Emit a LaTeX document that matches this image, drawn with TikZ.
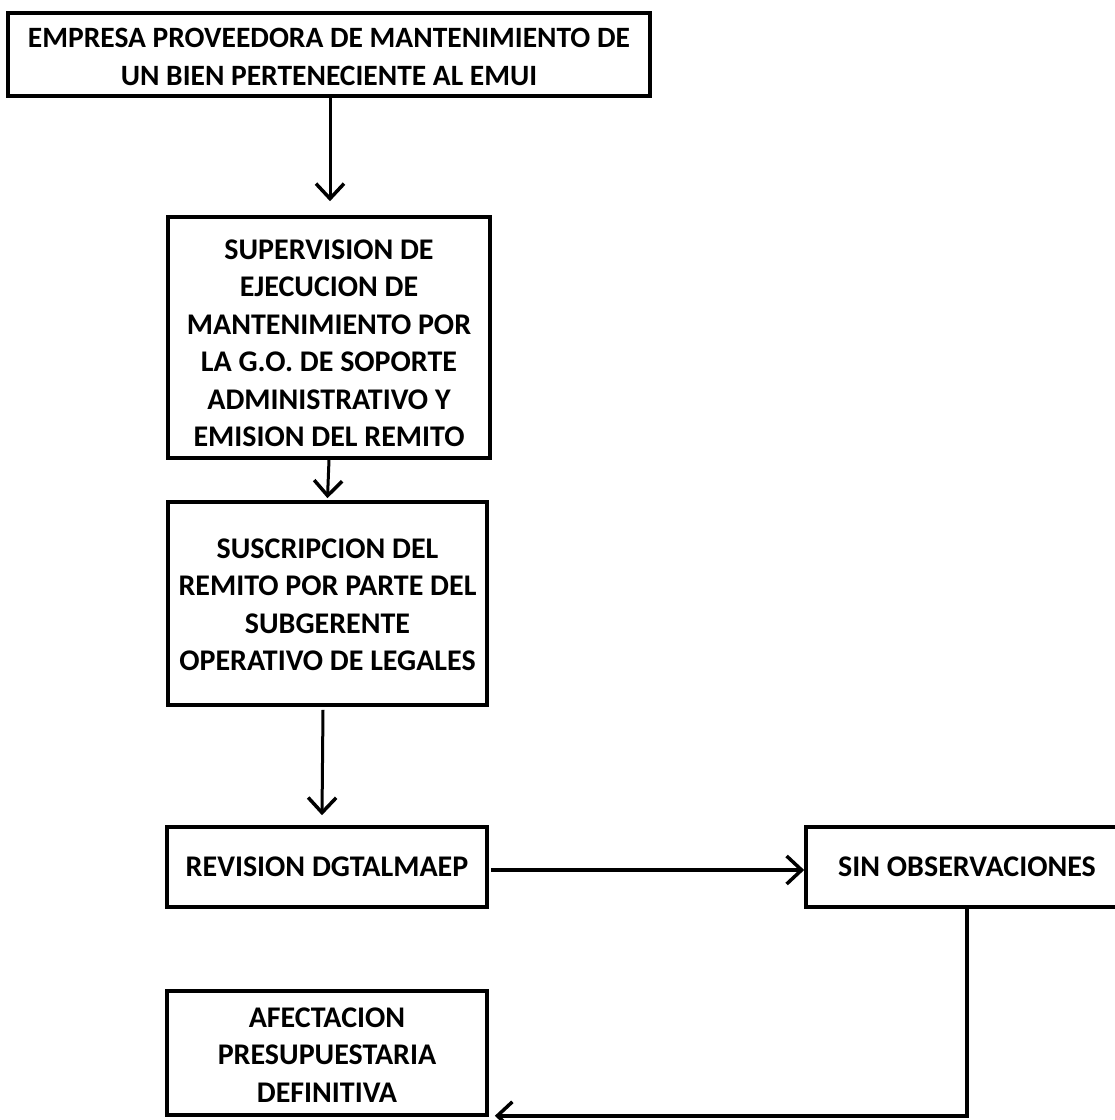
\documentclass[tikz,border=0pt]{standalone}
\usepackage{fontspec}
\setmainfont{Carlito}
\usetikzlibrary{arrows.meta}
\begin{document}
\begin{tikzpicture}[x=1pt,y=-1pt,
  box/.style={draw,line width=3.6pt,inner sep=0pt,align=center,
    font=\bfseries\fontsize{30}{37.5}\selectfont},
  arr/.style={line width=3pt,-{Straight Barb[length=15pt,width=28pt,line width=3.5pt]}},
  link/.style={line width=3.6pt}]
\useasboundingbox (0,0) rectangle (1115,1120);
\node[box,minimum width=642pt,minimum height=83pt,font=\bfseries\fontsize{29.5}{38}\selectfont] (b1) at (329,54.5)
  {\rule{0pt}{25pt}EMPRESA PROVEEDORA DE MANTENIMIENTO DE\\UN BIEN PERTENECIENTE AL EMUI};
\node[box,minimum width=322pt,minimum height=241pt] (b2) at (329,337.5)
  {\rule{0pt}{31pt}SUPERVISION DE\\EJECUCION DE\\MANTENIMIENTO POR\\LA G.O. DE SOPORTE\\ADMINISTRATIVO Y\\EMISION DEL REMITO};
\node[box,minimum width=319pt,minimum height=203pt] (b3) at (327.5,603.5)
  {\rule{0pt}{22pt}SUSCRIPCION DEL\\REMITO POR PARTE DEL\\SUBGERENTE\\OPERATIVO DE LEGALES};
\node[box,minimum width=320pt,minimum height=80pt] (b4) at (327,867)
  {REVISION DGTALMAEP};
\node[box,minimum width=322pt,minimum height=80pt] (b5) at (967,867)
  {SIN OBSERVACIONES};
\node[box,minimum width=320pt,minimum height=124pt] (b6) at (327,1053)
  {\rule{0pt}{23pt}AFECTACION\\PRESUPUESTARIA\\DEFINITIVA};
\coordinate (corner) at (b5.south |- b6.south);
\draw[arr] ([xshift=1pt]b1.south) -- ([xshift=1pt,yshift=14pt]b2.north);
\draw[arr] ([xshift=0pt]b2.south) -- ([xshift=0pt,yshift=2pt]b3.north);
\draw[arr] ([xshift=-4.5pt,yshift=-3pt]b3.south) -- ([xshift=-5pt,yshift=10pt]b4.north);
\draw[arr,line width=4.5pt] ([xshift=2pt,yshift=-3pt]b4.east) -- ([yshift=-3pt]b5.west);
\draw[link] (b5.south) -- ([yshift=1pt]corner);
\draw[arr,line width=3.6pt] ([xshift=1.8pt,yshift=1pt]corner) -- ([xshift=6pt,yshift=1pt]b6.south east);
\end{tikzpicture}
\end{document}
